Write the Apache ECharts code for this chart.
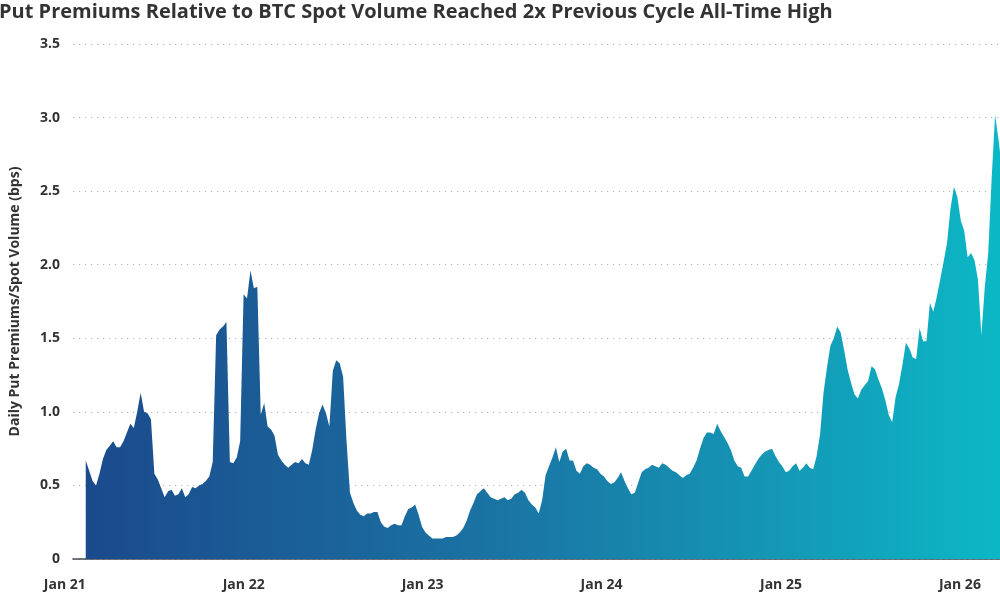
<!DOCTYPE html>
<html>
<head>
<meta charset="utf-8">
<script src="https://cdn.jsdelivr.net/npm/echarts@6/dist/echarts.min.js"></script>
<style>
html,body{margin:0;padding:0;background:#fff;}
#c{width:1000px;height:600px;}
</style>
</head>
<body>
<div id="c"></div>
<script>
// Weekly samples starting 2021-01-01
const startDate = '2021-01-01';
const stepDays = 7;
const putPremiumRatio = [
0.67,0.60,0.53,0.50,0.58,0.68,0.74,0.77,0.80,0.76,
0.76,0.80,0.86,0.92,0.89,1.00,1.13,1.00,0.99,0.95,
0.58,0.54,0.48,0.42,0.46,0.47,0.43,0.44,0.48,0.42,
0.44,0.49,0.48,0.50,0.51,0.53,0.56,0.66,1.52,1.56,
1.58,1.61,0.66,0.65,0.69,0.80,1.80,1.77,1.96,1.84,
1.85,0.98,1.06,0.90,0.88,0.84,0.71,0.67,0.64,0.62,
0.64,0.66,0.65,0.68,0.65,0.64,0.74,0.88,0.99,1.05,
0.99,0.90,1.28,1.35,1.33,1.24,0.80,0.45,0.38,0.33,
0.30,0.29,0.31,0.31,0.32,0.32,0.25,0.22,0.21,0.23,
0.24,0.23,0.23,0.29,0.34,0.35,0.37,0.30,0.22,0.18,
0.16,0.14,0.14,0.14,0.14,0.15,0.15,0.15,0.16,0.18,
0.21,0.26,0.33,0.38,0.44,0.46,0.48,0.45,0.42,0.41,
0.40,0.41,0.42,0.40,0.41,0.44,0.45,0.47,0.45,0.40,
0.37,0.35,0.31,0.40,0.57,0.63,0.69,0.76,0.66,0.73,
0.75,0.67,0.67,0.60,0.58,0.63,0.65,0.64,0.62,0.61,
0.58,0.56,0.53,0.51,0.52,0.55,0.59,0.53,0.48,0.44,
0.45,0.52,0.59,0.61,0.62,0.64,0.63,0.62,0.65,0.64,
0.62,0.60,0.59,0.57,0.55,0.57,0.58,0.62,0.67,0.75,
0.82,0.86,0.86,0.85,0.92,0.87,0.83,0.79,0.74,0.67,
0.63,0.62,0.56,0.56,0.60,0.64,0.68,0.71,0.73,0.74,
0.75,0.70,0.66,0.63,0.59,0.60,0.63,0.65,0.60,0.62,
0.65,0.62,0.61,0.70,0.85,1.13,1.30,1.45,1.50,1.58,
1.54,1.42,1.29,1.20,1.12,1.09,1.15,1.18,1.21,1.31,
1.29,1.22,1.16,1.08,0.98,0.93,1.10,1.19,1.32,1.47,
1.43,1.37,1.36,1.57,1.48,1.48,1.74,1.68,1.78,1.90,
2.02,2.15,2.38,2.53,2.46,2.30,2.23,2.05,2.08,2.03,
1.90,1.52,1.85,2.08,2.59,3.02,2.85,2.65
];
const yearTicks = ['2021-01-01','2022-01-01','2023-01-01','2024-01-01','2025-01-01','2026-01-01'];
const yearLabels = ['Jan 21','Jan 22','Jan 23','Jan 24','Jan 25','Jan 26'];
const xMin = '2020-12-06';
const xMax = '2026-02-09';

const DAY = 86400000;
const toTs = d => Date.parse(d + 'T00:00:00Z');
const t0 = toTs(startDate);
const seriesData = putPremiumRatio.map((v, i) => [t0 + i * stepDays * DAY, v]);
const tickValues = yearTicks.map(toTs);
const labelFor = function (v) {
  for (let i = 0; i < tickValues.length; i++) {
    if (Math.abs(tickValues[i] - v) < DAY) return yearLabels[i];
  }
  return '';
};

const chart = echarts.init(document.getElementById('c'), null, {renderer: 'canvas'});
chart.setOption({
  animation: false,
  backgroundColor: '#ffffff',
  textStyle: {fontFamily: 'Open Sans'},
  title: {
    text: 'Put Premiums Relative to BTC Spot Volume Reached 2x Previous Cycle All-Time High',
    left: -1, top: 2, padding: 0,
    textStyle: {fontFamily: 'Open Sans', fontWeight: 'bold', fontSize: 20, color: '#333333'}
  },
  grid: {left: 73, right: 0, top: 44, bottom: 41, containLabel: false, outerBoundsMode: 'none'},
  xAxis: {
    type: 'value',
    min: toTs(xMin),
    max: toTs(xMax),
    axisLine: {show: true, onZero: false, lineStyle: {color: '#3d4650', width: 1.5}},
    axisTick: {show: false},
    splitLine: {show: false},
    axisLabel: {
      customValues: tickValues,
      formatter: labelFor,
      align: 'right',
      margin: 19,
      fontFamily: 'Open Sans', fontWeight: 'bold', fontSize: 14, color: '#333333'
    }
  },
  yAxis: {
    type: 'value',
    min: 0, max: 3.5, interval: 0.5,
    name: 'Daily Put Premiums/Spot Volume (bps)',
    nameLocation: 'middle',
    nameGap: 51,
    nameRotate: 90,
    nameTextStyle: {fontFamily: 'Open Sans', fontWeight: 'bold', fontSize: 14, color: '#333333'},
    axisLine: {show: false},
    axisTick: {show: false},
    axisLabel: {
      margin: 13,
      formatter: function (v) { return v === 0 ? '0' : v.toFixed(1); },
      fontFamily: 'Open Sans', fontWeight: 'bold', fontSize: 14, color: '#333333'
    },
    splitLine: {show: true, lineStyle: {color: '#b5b5b5', width: 1, type: [1.2, 4.8]}}
  },
  series: [{
    type: 'line',
    data: seriesData,
    symbol: 'none',
    smooth: false,
    lineStyle: {width: 0},
    areaStyle: {
      opacity: 1,
      color: new echarts.graphic.LinearGradient(0, 0, 1, 0, [
        {offset: 0, color: '#1b4a8c'},
        {offset: 0.45, color: '#1a74a4'},
        {offset: 0.75, color: '#1497b5'},
        {offset: 1, color: '#0bb8c6'}
      ])
    },
    z: 1
  }]
});
</script>
</body>
</html>
